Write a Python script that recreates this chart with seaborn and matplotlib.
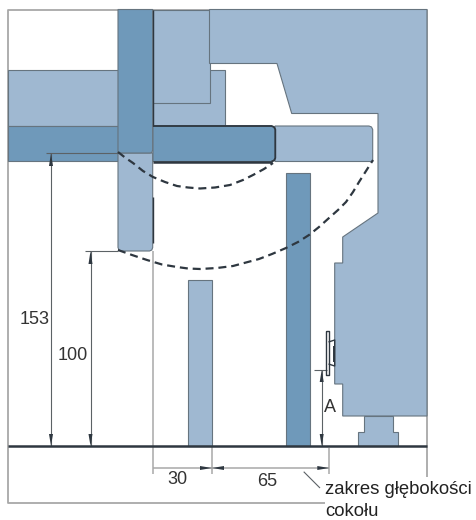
import matplotlib
matplotlib.use("Agg")
import matplotlib.pyplot as plt
import pandas as pd
import seaborn as sns

sns.set_theme(style="white")
plt.rcParams['font.family'] = ['Liberation Sans', 'DejaVu Sans']

LIGHT = "#9FB8D1"
DARK = "#6F99BA"
EDGE = "#66747F"
INK = "#2E3740"
GREY = "#A8A8A8"
THIN = "#5C6266"

# part outlines (x, y), painted in this order
panel_back = [(153, 70), (224.5, 70), (224.5, 126), (153, 126)]
panel_left = [(8, 70), (118, 70), (118, 126), (8, 126)]
panel_front = [(153, 9.5), (209.5, 9.5), (209.5, 103), (153, 103)]
cabinet = [(209.5, 9.5), (427, 9.5), (427, 416), (342.7, 416), (342.7, 384), (334.7, 384),
           (334.7, 263), (342.7, 263), (342.7, 237), (378, 213), (378, 113.5), (291.7, 113.5),
           (277, 63.5), (209.5, 63.5)]
shelf_light = [(275, 126), (369, 126), (371.5, 127), (372.7, 129.5), (372.7, 161.5), (275, 161.5)]
shelf_left = [(8, 126), (118, 126), (118, 161), (8, 161)]
post_light = [(118, 153), (152.7, 153), (152.7, 247.5), (151.8, 250), (149.5, 251), (121.5, 251),
              (119, 250), (118, 247.5)]
post_dark = [(118, 9.5), (152.7, 9.5), (152.7, 150), (151.8, 152.5), (150, 153), (118, 153)]
shelf_mid = [(153, 126), (271.5, 126), (274, 127), (275.3, 129.5), (275.3, 158), (274, 160.5),
             (271.5, 161.5), (153, 161.5)]
plinth_dark = [(286.3, 173), (310, 173), (310, 446), (286.3, 446)]
plinth_light = [(188.4, 280), (212, 280), (212, 446), (188.4, 446)]
foot = [(364.3, 416), (392.7, 416), (392.7, 432), (397.7, 432), (397.7, 446), (358.3, 446),
        (358.3, 432), (364.3, 432)]
parts = [(panel_back, LIGHT), (panel_left, LIGHT), (panel_front, LIGHT), (cabinet, LIGHT),
         (shelf_light, LIGHT), (shelf_left, DARK), (post_light, LIGHT), (post_dark, DARK),
         (shelf_mid, DARK), (plinth_dark, DARK), (plinth_light, LIGHT), (foot, LIGHT)]

# door swing paths
swing_upper = [(118, 152), (125, 157.5), (133, 163), (143, 171), (153, 177), (165, 182), (177, 186),
               (188, 187.5), (200, 188.5), (215, 187.5), (230, 185), (243, 180), (253, 175),
               (264, 169), (273, 163)]
swing_lower = [(118, 250), (132, 255), (147, 260), (162, 264.5), (177, 267), (188, 268.5), (200, 269),
               (217, 268), (233, 266), (246, 262.5), (259, 259), (272, 254), (286, 248), (298, 242),
               (309, 235), (319, 227), (329, 218), (338, 210), (346, 202), (353, 192), (359, 182),
               (366, 171), (373, 160)]

# outline strokes
frame = [(427, 477), (427, 9.5), (8, 9.5), (8, 503), (325, 503)]
floor = [(8, 446), (427, 446)]
mid_top = [(153, 126), (271.5, 126), (274, 127), (275.3, 129.5), (275.3, 158), (274, 160.5), (271.5, 161.5)]
mid_bottom = [(271.5, 161.5), (153, 161.5)]
post_edge_upper = [(153, 9.5), (153, 126)]
post_edge_lower = [(153, 197), (153, 243)]
bracket_plate = [(326, 331), (328.5, 331), (328.5, 375), (326, 375), (326, 331)]
bracket_arm = [(328.5, 342), (334.7, 340), (334.7, 366), (328.5, 364)]
bracket_pad = [(333.5, 346), (333.5, 362)]

# dimension strokes
dim_thin = [
    [(45.5, 153), (118, 153)],
    [(51, 153), (51, 446)],
    [(85, 251), (118, 251)],
    [(90.5, 251), (90.5, 446)],
    [(321.7, 370), (321.7, 446)],
    [(314, 369.7), (327, 369.7)],
    [(303.7, 471.7), (320, 488)],
]
dim_grey = [
    [(153, 251), (153, 474)],
    [(212, 446), (212, 474)],
    [(329.3, 448), (329.3, 474)],
    [(153, 468), (329.3, 468)],
]
arrows_v = [(51, 153, 13), (51, 446, -12), (90.5, 251, 13), (90.5, 446, -12),
            (321.7, 370, 12), (321.7, 446, -12)]
arrows_h = [(212, 468, -12), (212, 468, 12), (329.3, 468, -12)]

labels = [("153", 35, 320), ("100", 73, 355), ("30", 177, 480), ("65", 266.7, 481), ("A", 330, 408)]
note_lines = [("zakres głębokości", 325, 490), ("cokołu", 325, 511)]


def stroke(ax, pts, color, lw, dashes=None, z=3):
    df = pd.DataFrame(pts, columns=["x", "y"])
    sns.lineplot(data=df, x="x", y="y", estimator=None, sort=False, ax=ax,
                 color=color, linewidth=lw, legend=False)
    ln = ax.lines[-1]
    ln.set_zorder(z)
    ln.set_solid_capstyle("butt")
    if dashes:
        ln.set_dashes(dashes)


fig, ax = plt.subplots(figsize=(4.76, 5.2), dpi=100)
fig.patch.set_facecolor("white")
ax.set_position([0, 0, 1, 1])

for outline, colour in parts:
    xs, ys = zip(*outline)
    ax.fill(xs, ys, facecolor=colour, edgecolor=EDGE, linewidth=0.8, zorder=2)

stroke(ax, frame, GREY, 1.3, z=1.5)
for seg in dim_grey:
    stroke(ax, seg, GREY, 1.1, z=1.5)
for seg in dim_thin:
    stroke(ax, seg, THIN, 0.8)
stroke(ax, floor, INK, 1.8, z=4)
stroke(ax, mid_top, INK, 1.3, z=4)
stroke(ax, mid_bottom, INK, 1.8, z=4)
stroke(ax, post_edge_upper, INK, 1.0, z=4)
stroke(ax, post_edge_lower, INK, 1.0, z=4)
for part in (bracket_plate, bracket_arm):
    stroke(ax, part, INK, 1.0, z=4)
stroke(ax, bracket_pad, INK, 1.4, z=4)
stroke(ax, swing_upper, INK, 1.6, dashes=(3.6, 2.2), z=5)
stroke(ax, swing_lower, INK, 1.6, dashes=(3.6, 2.2), z=5)

for x, y, d in arrows_v:
    ax.fill([x, x - 2, x + 2], [y, y + d, y + d], color=INK, lw=0, zorder=5)
for x, y, d in arrows_h:
    ax.fill([x, x + d, x + d], [y, y - 2, y + 2], color=INK, lw=0, zorder=5)

for txt, x, y in labels:
    ax.text(x, y, txt, ha="center", va="center", fontsize=13, color="#333333", zorder=6)
for txt, x, y in note_lines:
    ax.text(x, y, txt, ha="left", va="center", fontsize=13.3, color="#222222", zorder=6)

ax.set_xlim(0, 476)
ax.set_ylim(520, 0)
ax.set_axis_off()
fig.savefig("out.png", dpi=100)
